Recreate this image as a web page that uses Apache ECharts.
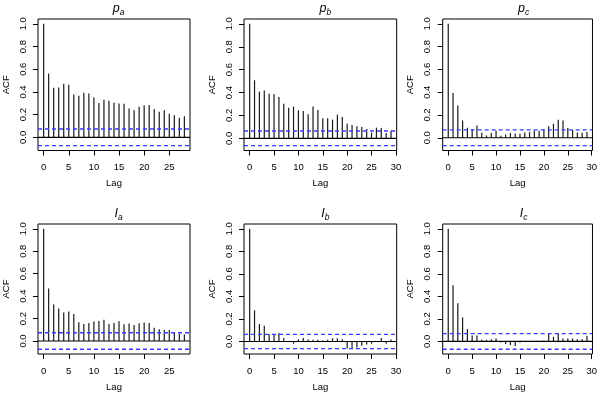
<!DOCTYPE html>
<html><head><meta charset="utf-8">
<script src="https://cdn.jsdelivr.net/npm/echarts@6/dist/echarts.min.js"></script>
<style>html,body{margin:0;padding:0;background:#fff}#c{width:600px;height:393px}</style>
</head><body><div id="c"></div>
<script>
// ACF values by lag (lag 0 first)
const acfPa = [1.0,0.563,0.437,0.44,0.472,0.463,0.378,0.367,0.393,0.387,0.352,0.302,0.331,0.323,0.305,0.299,0.296,0.255,0.238,0.27,0.282,0.284,0.249,0.226,0.238,0.208,0.194,0.173,0.185];
const acfPb = [1.0,0.507,0.408,0.417,0.39,0.388,0.362,0.303,0.268,0.277,0.245,0.239,0.21,0.277,0.248,0.175,0.175,0.163,0.207,0.187,0.128,0.117,0.105,0.099,0.082,0.05,0.093,0.09,0.047,0.067];
const acfPc = [1.0,0.392,0.284,0.152,0.088,0.076,0.108,0.044,0.02,0.041,0.061,0.018,0.029,0.041,0.038,0.035,0.047,0.05,0.064,0.061,0.073,0.102,0.123,0.158,0.152,0.085,0.07,0.047,0.044,0.05];
const acfIa = [1.0,0.468,0.325,0.289,0.254,0.263,0.24,0.167,0.152,0.161,0.173,0.178,0.19,0.152,0.161,0.175,0.149,0.155,0.143,0.158,0.164,0.161,0.117,0.105,0.099,0.099,0.079,0.064,0.058];
const acfIb = [1.0,0.277,0.155,0.14,0.064,0.061,0.073,0.032,0.002,-0.02,0.02,0.032,0.017,0.015,0.015,0.009,0.015,0.029,0.029,0.02,-0.062,-0.068,-0.052,-0.038,-0.026,-0.02,-0.003,0.032,-0.02,0.017];
const acfIc = [1.0,0.499,0.338,0.213,0.111,0.052,0.052,0.015,0.015,0.02,0.026,-0.009,-0.023,-0.032,-0.041,-0.009,-0.003,-0.003,0.003,0.003,0.009,0.067,0.041,0.073,0.026,0.026,0.026,0.02,0.02,0.05];
// confidence bounds (±)
const ciBounds = [0.073, 0.064, 0.069, 0.073, 0.063, 0.069];
// panel titles: letter + subscript
const titleMain = ['p','p','p','I','I','I'];
const titleSub = ['a','b','c','a','b','c'];
// tick labels
const xTicks28 = [0,5,10,15,20,25];
const xTicks29 = [0,5,10,15,20,25,30];
const yTicks = [0.0,0.2,0.4,0.6,0.8,1.0];
const xAxisTitle = 'Lag';
const yAxisTitle = 'ACF';

const series_values = [acfPa, acfPb, acfPc, acfIa, acfIb, acfIc];
const FONT = "'Liberation Sans', Arial, Helvetica, sans-serif";
const CI_BLUE = '#3b3bff';

// layout of plot boxes
const colLeft = [37.3, 244, 442.7];
const colWidth = [152.7, 152.7, 151.7];
const rowTop = [19, 224];
const boxH = 131.5;

function hLine(i, x0, x1, level, color, type, width) {
  return {type: 'line', xAxisIndex: i, yAxisIndex: i, silent: true, symbol: 'none',
    showSymbol: false, animation: false, clip: false,
    lineStyle: {color: color, width: width, type: type},
    itemStyle: {color: color},
    data: [[x0, level], [x1, level]]};
}

const grids = [], xAxes = [], yAxes = [], series = [], titles = [];
series_values.forEach((vals, i) => {
  const col = i % 3, row = Math.floor(i / 3);
  const L = vals.length - 1;
  const ci = ciBounds[i];
  const lo = Math.min(Math.min(...vals), -ci), hi = Math.max(Math.max(...vals), ci);
  const ypad = (hi - lo) * 0.04, xpad = L * 0.04;
  const xmin = -xpad, xmax = L + xpad;
  grids.push({left: colLeft[col], top: rowTop[row], width: colWidth[col], height: boxH,
    show: true, borderColor: '#000', borderWidth: 1, backgroundColor: 'transparent'});
  const xt = L >= 29 ? xTicks29 : xTicks28;
  xAxes.push({type: 'value', gridIndex: i, min: xmin, max: xmax, position: 'bottom',
    axisLine: {show: false, onZero: false}, splitLine: {show: false},
    axisTick: {show: true, inside: false, length: 5, customValues: xt, lineStyle: {color: '#000', width: 1}},
    axisLabel: {show: true, customValues: xt, margin: 12, color: '#000', fontFamily: FONT, fontSize: 9.5},
    name: xAxisTitle, nameLocation: 'middle', nameGap: 28,
    nameTextStyle: {color: '#000', fontFamily: FONT, fontSize: 9.5}});
  yAxes.push({type: 'value', gridIndex: i, min: lo - ypad, max: hi + ypad, position: 'left',
    axisLine: {show: false, onZero: false}, splitLine: {show: false},
    axisTick: {show: true, length: 5, customValues: yTicks, lineStyle: {color: '#000', width: 1}},
    axisLabel: {show: true, customValues: yTicks, rotate: 90, margin: 10, color: '#000', fontFamily: FONT, fontSize: 9.5,
      formatter: v => v.toFixed(1)},
    name: yAxisTitle, nameLocation: 'middle', nameGap: 27, nameRotate: 90,
    nameTextStyle: {color: '#000', fontFamily: FONT, fontSize: 9.5}});
  series.push({type: 'custom', xAxisIndex: i, yAxisIndex: i, silent: true,
    data: vals.map((v, k) => [k, v]),
    renderItem: (params, api) => {
      const p0 = api.coord([api.value(0), 0]);
      const p1 = api.coord([api.value(0), api.value(1)]);
      return {type: 'line', shape: {x1: p0[0], y1: p0[1], x2: p1[0], y2: p1[1]},
        style: {stroke: '#1a1a1a', lineWidth: 1.2}};
    }
  });
  series.push(hLine(i, xmin, xmax, 0, '#000', 'solid', 1.2));
  series.push(hLine(i, xmin, xmax, ci, CI_BLUE, [4, 3], 1.4));
  series.push(hLine(i, xmin, xmax, -ci, CI_BLUE, [4, 3], 1.4));
  titles.push({text: '{m|' + titleMain[i] + '}{s|' + titleSub[i] + '}',
    left: colLeft[col] + colWidth[col] / 2, top: rowTop[row] - 23, textAlign: 'center',
    textStyle: {fontWeight: 'normal', rich: {
      m: {fontFamily: FONT, fontStyle: 'italic', fontWeight: 'normal', fontSize: 12.5, color: '#000', lineHeight: 16, verticalAlign: 'middle'},
      s: {fontFamily: FONT, fontStyle: 'italic', fontWeight: 'normal', fontSize: 8.5, color: '#000', lineHeight: 16, verticalAlign: 'bottom', padding: [5, 0, 0, 0]}
    }}});
});

const chart = echarts.init(document.getElementById('c'), null, {renderer: 'canvas'});
chart.setOption({animation: false, backgroundColor: '#fff', title: titles, grid: grids, xAxis: xAxes, yAxis: yAxes, series: series});
</script></body></html>
